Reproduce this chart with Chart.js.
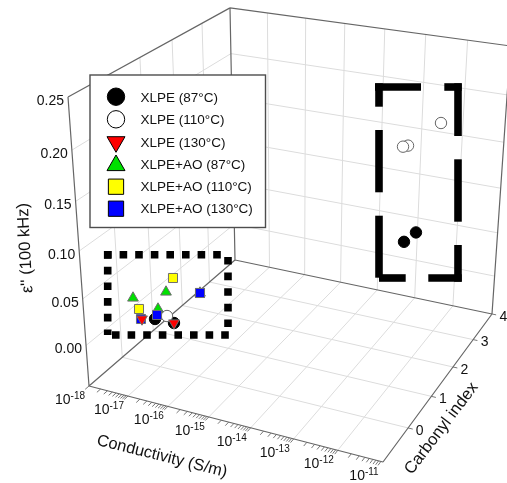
<!DOCTYPE html>
<html><head><meta charset="utf-8">
<style>html,body{margin:0;padding:0;background:#fff}canvas{display:block}</style>
<script src="https://cdn.jsdelivr.net/npm/chart.js@4"></script></head>
<body><canvas id="c" width="507" height="483"></canvas>
<script>
// ---- data: log10(conductivity), carbonyl index, epsilon'' ----
const conductivityTicks=[-18,-17,-16,-15,-14,-13,-12,-11];
const carbonylTicks=[0,1,2,3,4];
const epsilonTicks=[0,0.05,0.10,0.15,0.20,0.25];
const seriesNames=['XLPE (87°C)','XLPE (110°C)','XLPE (130°C)','XLPE+AO (87°C)','XLPE+AO (110°C)','XLPE+AO (130°C)'];
const xlpe87Log=[-16.920,-16.343,-12.529,-12.814];
const xlpe87CI=[-0.183,-0.300,3,3];
const xlpe87Eps=[0.015,0.020,0.063,0.050];
const xlpe110Log=[-16.641,-12.049,-12.804,-12.923];
const xlpe110CI=[-0.147,3,3,3];
const xlpe110Eps=[0.020,0.184,0.155,0.153];
const xlpe130Log=[-17.179,-16.386];
const xlpe130CI=[-0.270,-0.248];
const xlpe130Eps=[0.015,0.018];
const ao87Log=[-17.758,-17.005,-17.097,-16.513];
const ao87CI=[0.152,0.288,0.128,0.763];
const ao87Eps=[0.020,0.030,0.015,0.020];
const ao110Log=[-17.092,-17.550,-16.513];
const ao110CI=[0.628,0.078,0.763];
const ao110Eps=[0.035,0.012,0.020];
const ao130Log=[-16.907,-17.313,-16.513];
const ao130CI=[-0.132,-0.148,0.763];
const ao130Eps=[0.018,0.010,0.020];

// ---- 3D view: perspective from the box's corners on the page ----
const A=[89,386],B=[383,462],C=[492,314],D=[235,260],Az=[68,97],Dz=[230,8];
const dx1=B[0]-C[0],dx2=D[0]-C[0],sx=A[0]-B[0]+C[0]-D[0],dy1=B[1]-C[1],dy2=D[1]-C[1],sy=A[1]-B[1]+C[1]-D[1];
const det=dx1*dy2-dx2*dy1,g=(sx*dy2-dx2*sy)/det,h=(dx1*sy-sx*dy1)/det;
const a1=B[0]-A[0]+g*B[0],a2=D[0]-A[0]+h*D[0],a4=A[0],b1=B[1]-A[1]+g*B[1],b2=D[1]-A[1]+h*D[1],b4=A[1];
const k=(a2+Az[0]-Dz[0]*(1+h))/(Dz[0]-Az[0]);
const a3=Az[0]*(1+k)-A[0],b3=Az[1]*(1+k)-A[1];
function proj(u,v,w){const d=1+g*u+h*v+k*w;return{x:(a1*u+a2*v+a3*w+a4)/d,y:(b1*u+b2*v+b3*w+b4)/d};}
const U=c=>(c+18)/7, V=ci=>(ci+1)/5, W=e=>(e+0.045)/0.295;
const P3=(c,ci,e)=>proj(U(c),V(ci),W(e));
const GAP={x:NaN,y:NaN};
function pts(L,I,E){return L.map((l,i)=>P3(l,I[i],E[i]));}

// grid + axes paths
const grid=[],axes=[],ticks=[];
const seg=(arr,p,q)=>arr.push(p,q,GAP);
conductivityTicks.slice(1,-1).forEach(c=>{seg(grid,proj(U(c),0,0),proj(U(c),1,0));seg(grid,proj(U(c),1,0),proj(U(c),1,1));});
carbonylTicks.slice(0,-1).forEach(ci=>{seg(grid,proj(0,V(ci),0),proj(1,V(ci),0));seg(grid,proj(0,V(ci),0),proj(0,V(ci),1));});
epsilonTicks.slice(0,-1).forEach(e=>{seg(grid,proj(0,0,W(e)),proj(0,1,W(e)));seg(grid,proj(0,1,W(e)),proj(1,1,W(e)));});
[[0,0,0,1,0,0],[1,0,0,1,1,0],[0,0,0,0,1,0],[0,1,0,1,1,0],[0,0,0,0,0,1],[0,1,0,0,1,1],[0,0,1,0,1,1],[0,1,1,1,1,1],[1,1,0,1,1,1]]
 .forEach(s=>seg(axes,proj(s[0],s[1],s[2]),proj(s[3],s[4],s[5])));
conductivityTicks.slice(0,-1).forEach(c=>{for(let m=1;m<=9;m++){const u=U(c+Math.log10(m));seg(ticks,proj(u,0,0),proj(u,-0.022,0));}});
carbonylTicks.forEach(ci=>seg(ticks,proj(1,V(ci),0),proj(1.015,V(ci),0)));

const MARK='#6e6e6e';
const mk=(name,data,style,rot,fill,r,order,border)=>({label:name,data,pointStyle:style,rotation:rot,backgroundColor:fill,borderColor:border||MARK,
  pointRadius:r,pointBorderWidth:1,showLine:false,order,clip:false});
const line=(data,color,w,order)=>({data,borderColor:color,borderWidth:w,pointRadius:0,showLine:true,spanGaps:false,order,clip:false,tension:0});

const datasets=[
 mk(seriesNames[0],pts(xlpe87Log,xlpe87CI,xlpe87Eps),'circle',0,'#000000',5.7,5,'#000000'),
 mk(seriesNames[1],pts(xlpe110Log,xlpe110CI,xlpe110Eps),'circle',0,'#ffffff',5.7,4,'#666666'),
 mk(seriesNames[2],pts(xlpe130Log,xlpe130CI,xlpe130Eps),'triangle',180,'#ff0000',6.2,0),
 mk(seriesNames[3],pts(ao87Log,ao87CI,ao87Eps),'triangle',0,'#00e000',6.2,3),
 mk(seriesNames[4],pts(ao110Log,ao110CI,ao110Eps),'rect',0,'#ffff00',6.4,2),
 mk(seriesNames[5],pts(ao130Log,ao130CI,ao130Eps),'rect',0,'#0000ff',6.4,1),
 line(axes,'#666666',1.2,10),
 line(ticks,'#777777',1,11),
 line(grid,'#dcdcdc',1,20)
];

// overlay: highlight boxes, legend, axis text
const legendBox={x:90,y:75,w:175.5,h:152.5};
const legendRows=[
 {my:96.7,ty:98,r:8.7,style:'circle',rot:0},{my:119.3,ty:120.5,r:8.7,style:'circle',rot:0},
 {my:141.9,ty:143,r:10.4,style:'triangle',rot:180},{my:165.4,ty:165,r:10.4,style:'triangle',rot:0},
 {my:186.7,ty:187.5,r:10.8,style:'rect',rot:0},{my:208.7,ty:209.5,r:10.8,style:'rect',rot:0}];
const boxSegs=[
 // left (small squares) box
 [107.7,251,107.7,335,7.6,7.7,8],[104,254.7,228,254.7,7.6,7.6,8],
 [112,335,230,335,7.6,7.6,8],[228,257,228,327,7.6,7.6,8],
 // right box
 [375,87,421,87],[444.3,87,461.7,87],[458,83.3,458,136],[458,159.3,458,221.7],[458,245,458,281.7],
 [461.7,278,428.3,278],[405.7,278,379,278],[379,277.7,379,215.7],[379,192.3,379,130],[379,106.7,379,83.3]];
const overlay={id:'overlay',afterDatasetsDraw(chart){
 const ctx=chart.ctx;ctx.save();
 ctx.strokeStyle='#000';ctx.lineCap='butt';
 boxSegs.forEach(s=>{ctx.beginPath();ctx.lineWidth=s[4]||7.6;ctx.setLineDash(s[5]?[s[5],s[6]]:[]);ctx.moveTo(s[0],s[1]);ctx.lineTo(s[2],s[3]);ctx.stroke();});
 ctx.setLineDash([]);
 // legend
 ctx.fillStyle='#fff';ctx.fillRect(legendBox.x,legendBox.y,legendBox.w,legendBox.h);
 ctx.strokeStyle='#4d4d4d';ctx.lineWidth=1.4;ctx.strokeRect(legendBox.x,legendBox.y,legendBox.w,legendBox.h);
 ctx.textBaseline='middle';ctx.textAlign='left';ctx.font='13.5px "Liberation Sans"';
 legendRows.forEach((r,i)=>{const d=chart.data.datasets[i];
  ctx.fillStyle=d.backgroundColor;ctx.strokeStyle='#000';ctx.lineWidth=1;
  Chart.helpers.drawPoint(ctx,{pointStyle:r.style,radius:r.r,rotation:r.rot,borderWidth:1},116,r.my);
  ctx.fillStyle='#111';ctx.fillText(d.label,140.5,r.ty);});
 // epsilon ticks
 ctx.fillStyle='#111';ctx.font='14px "Liberation Sans"';ctx.textAlign='right';
 epsilonTicks.forEach(e=>{const p=proj(0,0,W(e));ctx.fillText(e.toFixed(2),p.x-4,p.y+4);});
 // carbonyl ticks
 ctx.textAlign='center';
 carbonylTicks.forEach(ci=>{const p=proj(1,V(ci),0);ctx.fillText(String(ci),p.x+11.5,p.y+3);});
 // conductivity ticks
 conductivityTicks.forEach(c=>{const p=proj(U(c),0,0);const base='10',sup=String(c);
  ctx.font='14px "Liberation Sans"';const bw=ctx.measureText(base).width;
  ctx.font='10px "Liberation Sans"';const sw=ctx.measureText(sup).width;
  const x0=p.x-19-(bw+sw)/2,y=p.y+14;
  ctx.textAlign='left';ctx.font='14px "Liberation Sans"';ctx.fillText(base,x0,y);
  ctx.font='10px "Liberation Sans"';ctx.fillText(sup,x0+bw,y-4);});
 // axis titles
 const title=(t,x,y,deg,fs)=>{ctx.save();ctx.translate(x,y);ctx.rotate(deg*Math.PI/180);ctx.textAlign='center';ctx.font=fs+'px "Liberation Sans"';ctx.fillText(t,0,0);ctx.restore();};
 title('Conductivity (S/m)',162,456.5,14,16.4);
 title('Carbonyl index',441.5,428.5,-52.8,16.6);
 title('ε\'\' (100 kHz)',25.5,248,-93,16.6);
 ctx.restore();
}};

new Chart(document.getElementById('c'),{type:'scatter',data:{datasets},plugins:[overlay],
 options:{responsive:false,animation:false,layout:{padding:0,autoPadding:false},
  plugins:{legend:{display:false},tooltip:{enabled:false},title:{display:false}},
  scales:{x:{type:'linear',min:0,max:507,display:false},y:{type:'linear',min:0,max:483,reverse:true,display:false}}}});
</script></body></html>
